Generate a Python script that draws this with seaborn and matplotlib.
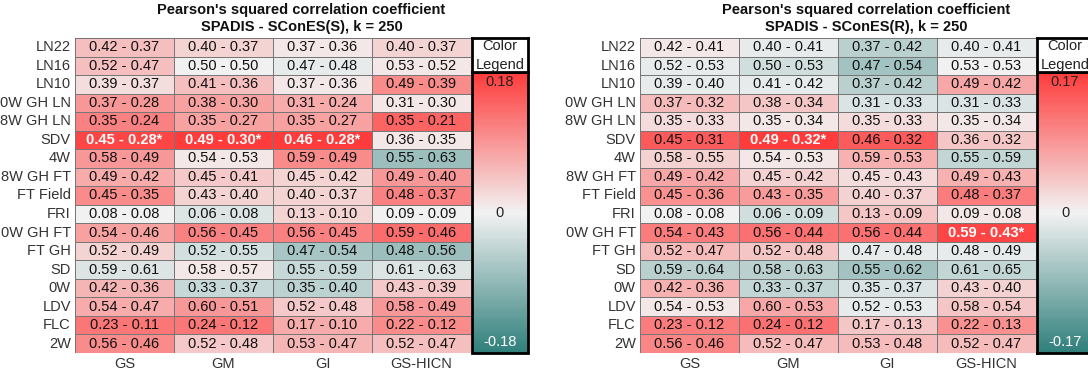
import numpy as np
import pandas as pd
import seaborn as sns
import matplotlib
matplotlib.use("Agg")
import matplotlib.pyplot as plt
from matplotlib.colors import LinearSegmentedColormap

rows = ["LN22", "LN16", "LN10", "0W GH LN", "8W GH LN", "SDV", "4W", "8W GH FT",
        "FT Field", "FRI", "0W GH FT", "FT GH", "SD", "0W", "LDV", "FLC", "2W"]
cols = ["GS", "GM", "GI", "GS-HICN"]

spadis = [
    [0.42, 0.40, 0.37, 0.40],
    [0.52, 0.50, 0.47, 0.53],
    [0.39, 0.41, 0.37, 0.49],
    [0.37, 0.38, 0.31, 0.31],
    [0.35, 0.35, 0.35, 0.35],
    [0.45, 0.49, 0.46, 0.36],
    [0.58, 0.54, 0.59, 0.55],
    [0.49, 0.45, 0.45, 0.49],
    [0.45, 0.43, 0.40, 0.48],
    [0.08, 0.06, 0.13, 0.09],
    [0.54, 0.56, 0.56, 0.59],
    [0.52, 0.52, 0.47, 0.48],
    [0.59, 0.58, 0.55, 0.61],
    [0.42, 0.33, 0.35, 0.43],
    [0.54, 0.60, 0.52, 0.58],
    [0.23, 0.24, 0.17, 0.22],
    [0.56, 0.52, 0.53, 0.52],
]
scones_s = [
    [0.37, 0.37, 0.36, 0.37],
    [0.47, 0.50, 0.48, 0.52],
    [0.37, 0.36, 0.36, 0.39],
    [0.28, 0.30, 0.24, 0.30],
    [0.24, 0.27, 0.27, 0.21],
    [0.28, 0.30, 0.28, 0.35],
    [0.49, 0.53, 0.49, 0.63],
    [0.42, 0.41, 0.42, 0.40],
    [0.35, 0.40, 0.37, 0.37],
    [0.08, 0.08, 0.10, 0.09],
    [0.46, 0.45, 0.45, 0.46],
    [0.49, 0.55, 0.54, 0.56],
    [0.61, 0.57, 0.59, 0.63],
    [0.36, 0.37, 0.40, 0.39],
    [0.47, 0.51, 0.48, 0.49],
    [0.11, 0.12, 0.10, 0.12],
    [0.46, 0.48, 0.47, 0.47],
]
scones_r = [
    [0.41, 0.41, 0.42, 0.41],
    [0.53, 0.53, 0.54, 0.53],
    [0.40, 0.42, 0.42, 0.42],
    [0.32, 0.34, 0.33, 0.33],
    [0.33, 0.34, 0.33, 0.34],
    [0.31, 0.32, 0.32, 0.32],
    [0.55, 0.53, 0.53, 0.59],
    [0.42, 0.42, 0.43, 0.43],
    [0.36, 0.35, 0.37, 0.37],
    [0.08, 0.09, 0.09, 0.08],
    [0.43, 0.44, 0.44, 0.43],
    [0.47, 0.48, 0.48, 0.49],
    [0.64, 0.63, 0.62, 0.65],
    [0.36, 0.37, 0.37, 0.40],
    [0.53, 0.53, 0.53, 0.54],
    [0.12, 0.12, 0.13, 0.13],
    [0.46, 0.47, 0.48, 0.47],
]
significant_s = [("SDV", "GS"), ("SDV", "GM"), ("SDV", "GI")]
significant_r = [("SDV", "GM"), ("0W GH FT", "GS-HICN")]
color_limits = [0.18, 0.17]
title_main = "Pearson's squared correlation coefficient"
subtitles = ["SPADIS - SConES(S), k = 250", "SPADIS - SConES(R), k = 250"]

sns.set_theme(style="white")
plt.rcParams["font.family"] = ["Liberation Sans", "DejaVu Sans"]

cmap = LinearSegmentedColormap.from_list("tealred", ["#2f7f7b", "#f2f2f2", "#ff3b3b"])

W, H = 1088, 372
fig = plt.figure(figsize=(W / 100, H / 100), dpi=100)


def ax_px(x0, y0, x1, y1):
    return fig.add_axes([x0 / W, 1 - y1 / H, (x1 - x0) / W, (y1 - y0) / H])


FS = 10.5
panels = [(scones_s, significant_s, color_limits[0], subtitles[0], 75),
          (scones_r, significant_r, color_limits[1], subtitles[1], 640)]

for other, sig, lim, sub, x0 in panels:
    top, bot = 38, 353
    hm_ax = ax_px(x0, top, x0 + 396, bot)
    cb_ax = ax_px(x0 + 397, 72, x0 + 453, bot)
    hd_ax = ax_px(x0 + 397, top, x0 + 453, 72)

    a = np.array(spadis)
    b = np.array(other)
    diff = pd.DataFrame(a - b, index=rows, columns=cols)
    sig_idx = {(rows.index(r), cols.index(c)) for r, c in sig}
    labels = np.array([[f"{a[i, j]:.2f} - {b[i, j]:.2f}" + ("*" if (i, j) in sig_idx else "")
                        for j in range(len(cols))] for i in range(len(rows))])

    sns.heatmap(diff, ax=hm_ax, cmap=cmap, vmin=-lim, vmax=lim,
                annot=labels, fmt="", annot_kws=dict(fontsize=FS),
                linewidths=0.7, linecolor="#777777", cbar=True, cbar_ax=cb_ax)

    for t in hm_ax.texts:
        x, y = t.get_position()
        i, j = int(y), int(x)
        if (i, j) in sig_idx:
            t.set_color("white")
            t.set_fontweight("bold")
        else:
            t.set_color("#111111")

    hm_ax.tick_params(axis="both", length=0, labelsize=FS, labelcolor="#333333")
    hm_ax.tick_params(axis="x", pad=3)
    hm_ax.tick_params(axis="y", pad=3)
    hm_ax.set_yticklabels(rows, rotation=0)
    hm_ax.set_xticklabels(cols, rotation=0)
    hm_ax.set_xlabel("")
    hm_ax.set_ylabel("")

    cb = hm_ax.collections[0].colorbar
    cb.outline.set_linewidth(2)
    cb.outline.set_edgecolor("black")
    cb.set_ticks([])
    cb_ax.text(0.5, 0.99, f"{lim:.2f}", transform=cb_ax.transAxes, ha="center", va="top",
               fontsize=FS, color="#222222")
    cb_ax.text(0.5, 0.5, "0", transform=cb_ax.transAxes, ha="center", va="center",
               fontsize=FS, color="#222222")
    cb_ax.text(0.5, 0.015, f"{-lim:.2f}", transform=cb_ax.transAxes, ha="center", va="bottom",
               fontsize=FS, color="white")

    hd_ax.set_facecolor("white")
    hd_ax.set_xticks([])
    hd_ax.set_yticks([])
    for s in hd_ax.spines.values():
        s.set_visible(True)
        s.set_color("black")
        s.set_linewidth(2)
    hd_ax.text(0.5, 0.75, "Color", transform=hd_ax.transAxes, ha="center", va="center",
               fontsize=FS, color="#222222")
    hd_ax.text(0.5, 0.2, "Legend", transform=hd_ax.transAxes, ha="center", va="center",
               fontsize=FS, color="#222222")

    cx = (x0 + x0 + 453) / 2 / W
    fig.text(cx, 1 - 10 / H, title_main, ha="center", va="center", fontsize=FS,
             fontweight="bold", color="#111111")
    fig.text(cx, 1 - 27 / H, sub, ha="center", va="center", fontsize=FS,
             fontweight="bold", color="#111111")

fig.savefig("out.png", dpi=100)
